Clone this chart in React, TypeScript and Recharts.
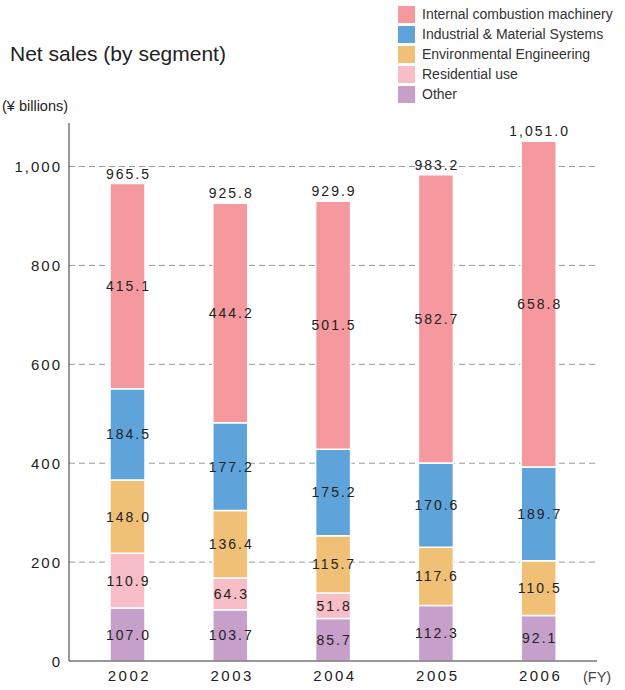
import { Bar, BarChart, CartesianGrid, LabelList, XAxis, YAxis } from 'recharts'

const years = ['2002', '2003', '2004', '2005', '2006']
const other = [107.0, 103.7, 85.7, 112.3, 92.1]
const residential = [110.9, 64.3, 51.8, 0, 0]
const environmental = [148.0, 136.4, 115.7, 117.6, 110.5]
const industrial = [184.5, 177.2, 175.2, 170.6, 189.7]
const combustion = [415.1, 444.2, 501.5, 582.7, 658.8]
const totals = [965.5, 925.8, 929.9, 983.2, 1051.0]
const yTicks = [0, 200, 400, 600, 800, 1000]
const Y_MAX = 1088

const segments = [
  { key: 'other', name: 'Other', color: '#c6a0ca' },
  { key: 'residential', name: 'Residential use', color: '#f8bec7' },
  { key: 'environmental', name: 'Environmental Engineering', color: '#f0c077' },
  { key: 'industrial', name: 'Industrial & Material Systems', color: '#5ea3da' },
  { key: 'combustion', name: 'Internal combustion machinery', color: '#f6999f' },
]

const data = years.map((year, i) => ({
  year,
  other: other[i],
  residential: residential[i],
  environmental: environmental[i],
  industrial: industrial[i],
  combustion: combustion[i],
  total: totals[i],
}))

const FONT = '"Liberation Sans", Arial, Helvetica, sans-serif'

// value inside a segment, skipped when the segment is empty
function SegmentLabel(props: any) {
  const { x, y, width, height, value } = props
  if (!value) return null
  return (
    <text
      x={x + width / 2 + 1}
      y={y + height / 2}
      textAnchor="middle"
      dominantBaseline="central"
      fontSize={14}
      letterSpacing={2}
      fill="#222"
      fontFamily={FONT}
    >
      {Number(value).toFixed(1)}
    </text>
  )
}

function TotalLabel(props: any) {
  const { x, y, width, value } = props
  return (
    <text
      x={x + width / 2 + 1}
      y={y - 5}
      textAnchor="middle"
      fontSize={14}
      letterSpacing={2}
      fill="#222"
      fontFamily={FONT}
    >
      {Number(value).toLocaleString('en-US', { minimumFractionDigits: 1 })}
    </text>
  )
}

function YTick(props: any) {
  const { x, y, payload } = props
  return (
    <text x={x + 1} y={y} textAnchor="end" dominantBaseline="central" fontSize={15} letterSpacing={2} fill="#222" fontFamily={FONT}>
      {payload.value.toLocaleString('en-US')}
    </text>
  )
}

function XTick(props: any) {
  const { x, y, payload } = props
  return (
    <text x={x + 2} y={y + 12} textAnchor="middle" fontSize={15} letterSpacing={2.5} fill="#222" fontFamily={FONT}>
      {payload.value}
    </text>
  )
}

// grid only at the labelled ticks (no line along the top edge)
const gridRows = ({ offset }: any) =>
  yTicks.slice(1).map((t) => offset.top + offset.height * (1 - t / Y_MAX))

function App() {
  const legendItems = [...segments].reverse()
  return (
    <div style={{ position: 'relative', width: 625, height: 690, fontFamily: FONT }}>
      <style>{'body{margin:0}'}</style>
      <div style={{ position: 'absolute', left: 10, top: 42, fontSize: 21, color: '#222' }}>Net sales (by segment)</div>
      <div style={{ position: 'absolute', left: 2, top: 98, fontSize: 14.5, color: '#222' }}>(¥ billions)</div>
      <div style={{ position: 'absolute', left: 583, top: 669, fontSize: 14.5, color: '#444' }}>(FY)</div>
      <div style={{ position: 'absolute', left: 398, top: 4 }}>
        {legendItems.map((s) => (
          <div key={s.key} style={{ display: 'flex', alignItems: 'center', height: 20 }}>
            <span style={{ width: 17, height: 17, background: s.color, marginRight: 7 }} />
            <span style={{ fontSize: 14, color: '#333' }}>{s.name}</span>
          </div>
        ))}
      </div>
      <BarChart
        width={625}
        height={690}
        data={data}
        margin={{ top: 123, right: 28, left: 0, bottom: 0 }}
        barSize={35}
      >
        <CartesianGrid vertical={false} stroke="#999" strokeDasharray="6 4" horizontalCoordinatesGenerator={gridRows} />
        <YAxis
          width={69}
          domain={[0, Y_MAX]}
          ticks={yTicks}
          tickLine={false}
          axisLine={{ stroke: '#333' }}
          tick={<YTick />}
          interval={0}
        />
        <XAxis
          dataKey="year"
          height={29}
          tickLine={false}
          axisLine={{ stroke: '#333' }}
          padding={{ left: 7, right: 7 }}
          tick={<XTick />}
        />
        {segments.map((s, i) => (
          <Bar
            key={s.key}
            dataKey={s.key}
            stackId="a"
            fill={s.color}
            stroke="#fff"
            strokeWidth={1.5}
            isAnimationActive={false}
          >
            <LabelList dataKey={s.key} content={<SegmentLabel />} />
            {i === segments.length - 1 && <LabelList dataKey="total" content={<TotalLabel />} />}
          </Bar>
        ))}
      </BarChart>
    </div>
  )
}

export default App
